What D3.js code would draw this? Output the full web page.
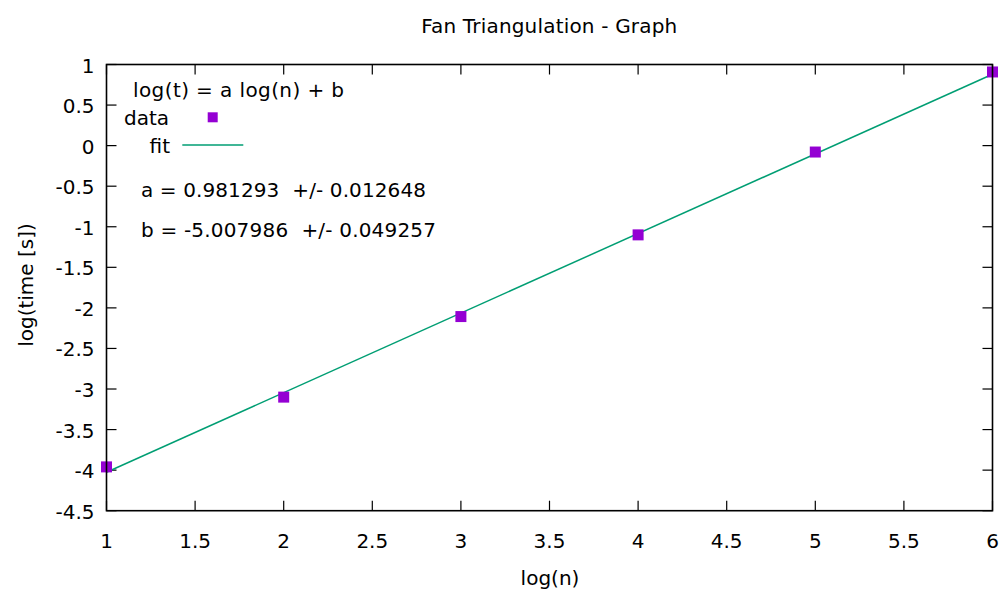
<!DOCTYPE html>
<html><head><meta charset="utf-8">
<script src="https://cdn.jsdelivr.net/npm/d3@7"></script>
<style>body{margin:0;background:#fff}svg{display:block}text{font-family:"DejaVu Sans",sans-serif;fill:#000}</style>
</head><body>
<script>
const logN = [1, 2, 3, 4, 5, 6];
const logTime = [-3.96, -3.10, -2.107, -1.10, -0.079, 0.908];
const fitA = 0.981293, fitAErr = 0.012648;
const fitB = -5.007986, fitBErr = 0.049257;
const xTicks = [1, 1.5, 2, 2.5, 3, 3.5, 4, 4.5, 5, 5.5, 6];
const yTicks = [1, 0.5, 0, -0.5, -1, -1.5, -2, -2.5, -3, -3.5, -4, -4.5];

const W = 1005, H = 594;
const m = {l: 106.5, r: 992.5, t: 64.5, b: 510.7};
const svg = d3.select("body").append("svg").attr("width", W).attr("height", H);
const x = d3.scaleLinear().domain([1, 6]).range([m.l, m.r]);
const y = d3.scaleLinear().domain([-4.5, 1]).range([m.b, m.t]);
const fs = 20;

// ticks (inward, mirrored)
const tl = 10;
const g = svg.append("g");
xTicks.forEach(v => {
  g.append("line").attr("x1", x(v)).attr("x2", x(v)).attr("y1", m.b).attr("y2", m.b - tl).attr("stroke", "#000").attr("stroke-width", 1.2);
  g.append("line").attr("x1", x(v)).attr("x2", x(v)).attr("y1", m.t).attr("y2", m.t + tl).attr("stroke", "#000").attr("stroke-width", 1.2);
  g.append("text").attr("x", x(v)).attr("y", m.b + 37.5).attr("text-anchor", "middle").attr("font-size", fs).text(v);
});
yTicks.forEach(v => {
  g.append("line").attr("x1", m.l).attr("x2", m.l + tl).attr("y1", y(v)).attr("y2", y(v)).attr("stroke", "#000").attr("stroke-width", 1.2);
  g.append("line").attr("x1", m.r).attr("x2", m.r - tl).attr("y1", y(v)).attr("y2", y(v)).attr("stroke", "#000").attr("stroke-width", 1.2);
  g.append("text").attr("x", m.l - 12).attr("y", y(v) + 8).attr("text-anchor", "end").attr("font-size", fs).text(v);
});

// fit line
const line = d3.line().x(d => x(d)).y(d => y(fitA * d + fitB));
svg.append("path").attr("d", line([1, 6])).attr("fill", "none").attr("stroke", "#009e73").attr("stroke-width", 1.5);

// data points
const s = 11;
svg.selectAll("rect.pt").data(logN).join("rect").attr("class", "pt")
  .attr("x", (d) => x(d) - s / 2).attr("y", (d, i) => y(logTime[i]) - s / 2)
  .attr("width", s).attr("height", s).attr("fill", "#9400d3");

// frame
svg.append("rect").attr("x", m.l).attr("y", m.t).attr("width", m.r - m.l).attr("height", m.b - m.t)
  .attr("fill", "none").attr("stroke", "#000").attr("stroke-width", 1.6);

// legend
svg.append("text").attr("x", 133).attr("y", 97).attr("font-size", fs).attr("textLength", 211).text("log(t) = a log(n) + b");
svg.append("text").attr("x", 169).attr("y", 125).attr("text-anchor", "end").attr("font-size", fs).text("data");
svg.append("rect").attr("x", 207.7).attr("y", 112.3).attr("width", 10).attr("height", 10).attr("fill", "#9400d3");
svg.append("text").attr("x", 170).attr("y", 152.7).attr("text-anchor", "end").attr("font-size", fs).text("fit");
svg.append("line").attr("x1", 182.3).attr("x2", 243.3).attr("y1", 145).attr("y2", 145).attr("stroke", "#009e73").attr("stroke-width", 1.5);
svg.append("text").attr("x", 141).attr("y", 196.5).attr("font-size", fs).attr("xml:space", "preserve").attr("textLength", 285)
  .text(`a = ${fitA.toFixed(6)}  +/- ${fitAErr.toFixed(6)}`);
svg.append("text").attr("x", 141).attr("y", 236.5).attr("font-size", fs).attr("xml:space", "preserve").attr("textLength", 295)
  .text(`b = ${fitB.toFixed(6)}  +/- ${fitBErr.toFixed(6)}`);

// titles
svg.append("text").attr("x", 549.2).attr("y", 33).attr("text-anchor", "middle").attr("font-size", fs).attr("textLength", 256).text("Fan Triangulation - Graph");
svg.append("text").attr("x", 550).attr("y", 585).attr("text-anchor", "middle").attr("font-size", fs).text("log(n)");
svg.append("text").attr("transform", "translate(33,285) rotate(-90)").attr("text-anchor", "middle").attr("font-size", fs).text("log(time [s])");
</script>
</body></html>
